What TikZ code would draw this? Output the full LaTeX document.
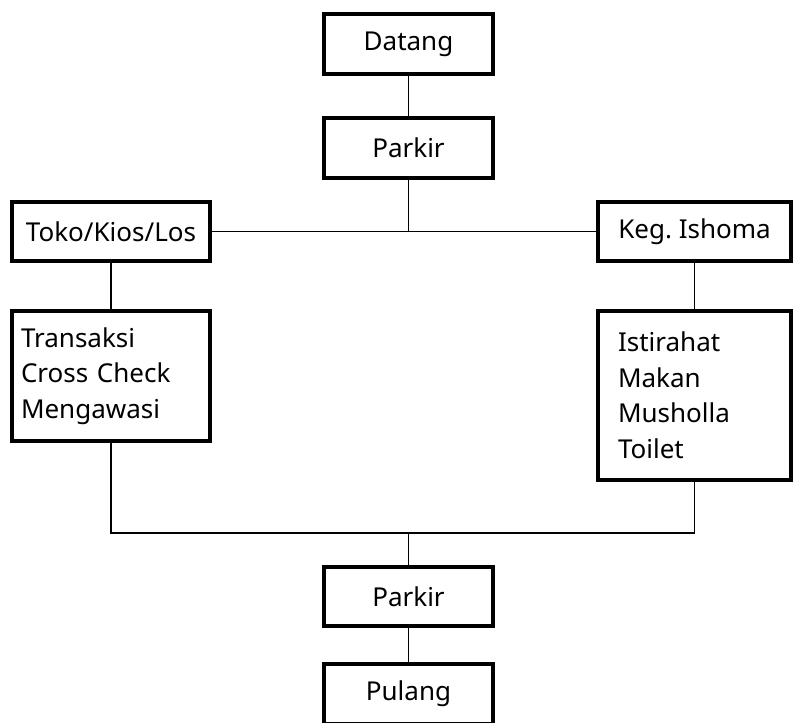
\documentclass[tikz,border=0pt]{standalone}
\usepackage{fontspec}
\setmainfont{Noto Sans}
\frenchspacing
\begin{document}
\begin{tikzpicture}[x=1pt,y=-1pt,
  box/.style={draw=black, line width=4pt, fill=white, inner sep=0pt, font=\fontsize{26}{35.5}\selectfont},
  multibox/.style={box, align=left, inner ysep=0pt},
  link/.style={line width=1.5pt, draw=black}]
\useasboundingbox (0,0) rectangle (794,722);
\node[box, minimum width=169, minimum height=60] (datang) at (408.5,44) {Datang};
\node[box, minimum width=169, minimum height=60] (parkir1) at (408.5,148) {Parkir};
\node[box, minimum width=198, minimum height=59] (toko) at (111,231.5) {Toko/Kios/Los};
\node[box, minimum width=193, minimum height=59] (keg) at (694.5,231.5) {Keg. Ishoma};
\node[multibox, minimum width=198, minimum height=130, text width=180, inner xsep=9] (trans) at (111,376) {Transaksi\\Cross Check\\Mengawasi};
\node[multibox, minimum width=193, minimum height=169, text width=153, inner xsep=20] (istir) at (694.5,395) {Istirahat\\Makan\\Musholla\\Toilet};
\node[box, minimum width=169, minimum height=59] (parkir2) at (408.5,596.5) {Parkir};
\node[box, minimum width=169, minimum height=60] (pulang) at (408.5,694) {Pulang};
\coordinate (j1) at (parkir1.south |- toko.east);
\coordinate (j2) at (408.5,533);
\draw[link] (datang) -- (parkir1);
\draw[link] (parkir1.south) -- (j1);
\draw[link] (toko) -- (keg);
\draw[link] (toko) -- (trans);
\draw[link] (keg) -- (istir);
\draw[link] (trans.south) |- (j2) -| (istir.south);
\draw[link] (j2) -- (parkir2);
\draw[link] (parkir2) -- (pulang);
\end{tikzpicture}
\end{document}
